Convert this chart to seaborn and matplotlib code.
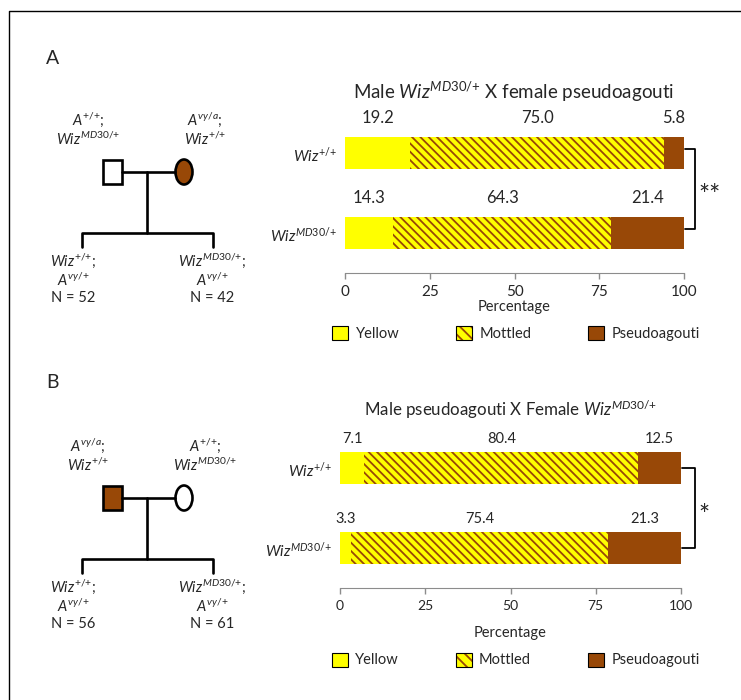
import seaborn as sns
import matplotlib.pyplot as plt
import pandas as pd
from matplotlib.patches import Patch, Rectangle, Ellipse
from matplotlib.legend_handler import HandlerTuple

sns.set_style("white")
plt.rcParams['font.family'] = ['Lato', 'DejaVu Sans']
plt.rcParams['mathtext.fontset'] = 'custom'
plt.rcParams['mathtext.rm'] = 'Lato'
plt.rcParams['mathtext.it'] = 'Lato:italic'
plt.rcParams['mathtext.bf'] = 'Lato:bold'
plt.rcParams['hatch.linewidth'] = 1.3

YELLOW = '#FFFF00'
BROWN = '#984807'
HATCH = '\\\\\\\\'

# data
genotypes = [r'$\mathit{Wiz}^{\mathit{{+}/{+}}}$', r'$\mathit{Wiz}^{\mathit{MD30/{+}}}$']
yellow_a = [19.2, 14.3]
mottled_a = [75.0, 64.3]
pseudo_a = [5.8, 21.4]
yellow_b = [7.1, 3.3]
mottled_b = [80.4, 75.4]
pseudo_b = [12.5, 21.3]
n_a = [52, 42]
n_b = [56, 61]
legend_labels = ['Yellow', 'Mottled', 'Pseudoagouti']

fig = plt.figure(figsize=(7.41, 7.0), dpi=100)


def stacked(ax, yel, mot, pse, label_off, xlabelpad, fs_val, fs_tick):
    df = pd.DataFrame({'genotype': genotypes, 'yellow': yel, 'mottled': mot, 'pseudo': pse})
    df['ym'] = df['yellow'] + df['mottled']
    df['total'] = df['ym'] + df['pseudo']
    # stacked look: draw cumulative totals back to front
    sns.barplot(data=df, x='total', y='genotype', orient='h', color=BROWN,
                saturation=1, width=0.39, linewidth=0, ax=ax)
    sns.barplot(data=df, x='ym', y='genotype', orient='h', color=YELLOW,
                saturation=1, width=0.39, linewidth=0, edgecolor=BROWN,
                hatch=HATCH, ax=ax)
    sns.barplot(data=df, x='yellow', y='genotype', orient='h', color=YELLOW,
                saturation=1, width=0.39, linewidth=0, ax=ax)
    for i, row in df.iterrows():
        centers = [row['yellow'] / 2, row['yellow'] + row['mottled'] / 2,
                   row['ym'] + row['pseudo'] / 2]
        for c, v in zip(centers, [row['yellow'], row['mottled'], row['pseudo']]):
            ax.text(c, i - label_off, f'{v:.1f}', ha='center', va='center', fontsize=fs_val)
    ax.set_xlim(0, 100)
    ax.set_ylim(1.5, -0.5)
    ax.set_xticks([0, 25, 50, 75, 100])
    ax.set_xlabel('Percentage', fontsize=10.5, labelpad=xlabelpad)
    ax.set_ylabel('')
    for s in ['top', 'right', 'left']:
        ax.spines[s].set_visible(False)
    ax.spines['bottom'].set_color('#8c8c8c')
    ax.tick_params(axis='x', bottom=True, direction='out', length=4, width=1,
                   color='#8c8c8c', labelsize=fs_tick, pad=5)
    ax.tick_params(axis='y', left=False, length=0, labelsize=11, pad=6)
    handles = [Patch(facecolor=YELLOW, edgecolor='black', linewidth=0.8),
               (Patch(facecolor=YELLOW, edgecolor=BROWN, hatch='\\\\\\', linewidth=0),
                Patch(facecolor='none', edgecolor='black', linewidth=0.8)),
               Patch(facecolor=BROWN, edgecolor='black', linewidth=0.8)]
    return handles


ax_a = fig.add_axes([345 / 741, 1 - 273 / 700, 339 / 741, 160 / 700])
h = stacked(ax_a, yellow_a, mottled_a, pseudo_a, 0.44, 0, 12, 11)
ax_a.legend(h, legend_labels, ncol=3, frameon=False,
            loc='center', bbox_to_anchor=(0.505, -0.38), fontsize=10.5,
            handlelength=1.1, handleheight=1.1, columnspacing=3.9, handletextpad=0.5,
            handler_map={tuple: HandlerTuple(ndivide=1, pad=0)})

ax_b = fig.add_axes([340 / 741, 1 - 588 / 700, 341 / 741, 160 / 700])
h = stacked(ax_b, yellow_b, mottled_b, pseudo_b, 0.36, 10, 10.5, 10)
ax_b.legend(h, legend_labels, ncol=3, frameon=False,
            loc='center', bbox_to_anchor=(0.515, -0.45), fontsize=10.5,
            handlelength=1.1, handleheight=1.1, columnspacing=3.9, handletextpad=0.5,
            handler_map={tuple: HandlerTuple(ndivide=1, pad=0)})

fig.text(514 / 741, 1 - 92 / 700, r'Male $\mathit{Wiz}^{\mathit{MD30/{+}}}$ X female pseudoagouti',
         ha='center', va='center', fontsize=13.5)
fig.text(510 / 741, 1 - 410 / 700, r'Male pseudoagouti X Female $\mathit{Wiz}^{\mathit{MD30/{+}}}$',
         ha='center', va='center', fontsize=12.2)

# pedigree overlay in pixel coordinates
ov = fig.add_axes([0, 0, 1, 1], zorder=-1)
ov.set_xlim(0, 741)
ov.set_ylim(700, 0)
ov.axis('off')
ov.plot([9, 9, 745], [705, 11, 11], color='black', lw=1)

lw = 1.9
for top, sq_fill, ci_fill, parents, ns in [
        (0, 'white', BROWN,
         [r'$\mathit{A}^{\mathit{{+}/{+}}}\mathit{;}$' + '\n' + r'$\mathit{Wiz}^{\mathit{MD30/{+}}}$',
          r'$\mathit{A}^{\mathit{vy/a}}\mathit{;}$' + '\n' + r'$\mathit{Wiz}^{\mathit{{+}/{+}}}$'], n_a),
        (326, BROWN, 'white',
         [r'$\mathit{A}^{\mathit{vy/a}}\mathit{;}$' + '\n' + r'$\mathit{Wiz}^{\mathit{{+}/{+}}}$',
          r'$\mathit{A}^{\mathit{{+}/{+}}}\mathit{;}$' + '\n' + r'$\mathit{Wiz}^{\mathit{MD30/{+}}}$'], n_b)]:
    yc = 172 + top
    ov.plot([122, 175], [yc, yc], color='black', lw=lw)
    ov.plot([147, 147], [yc, yc + 61], color='black', lw=lw)
    ov.plot([82, 82, 213, 213], [yc + 75, yc + 61, yc + 61, yc + 75], color='black', lw=lw)
    ov.add_patch(Rectangle((103, yc - 12), 19, 24, facecolor=sq_fill, edgecolor='black', lw=lw))
    ov.add_patch(Ellipse((184, yc), 17, 25, facecolor=ci_fill, edgecolor='black', lw=lw))
    ov.text(88, yc - 43, parents[0], ha='center', va='center', fontsize=10.5, linespacing=1.15)
    ov.text(205, yc - 43, parents[1], ha='center', va='center', fontsize=10.5, linespacing=1.15)
    ov.text(73, yc + 106, r'$\mathit{Wiz}^{\mathit{{+}/{+}}}\mathit{;}$' + '\n' + r'$\mathit{A}^{\mathit{vy/{+}}}$'
            + '\n' + f'N = {ns[0]}', ha='center', va='center', fontsize=10.5, linespacing=1.15)
    ov.text(212, yc + 106, r'$\mathit{Wiz}^{\mathit{MD30/{+}}}\mathit{;}$' + '\n' + r'$\mathit{A}^{\mathit{vy/{+}}}$'
            + '\n' + f'N = {ns[1]}', ha='center', va='center', fontsize=10.5, linespacing=1.15)

ov.text(53, 58, 'A', ha='center', va='center', fontsize=14)
ov.text(53, 383, 'B', ha='center', va='center', fontsize=14)

# significance brackets
ov.plot([685, 695, 695, 685], [149, 149, 229, 229], color='black', lw=1.3)
ov.text(710, 197, '**', ha='center', va='center', fontsize=19)
ov.plot([682, 695, 695, 682], [468, 468, 548, 548], color='black', lw=1.3)
ov.text(704, 517, '*', ha='center', va='center', fontsize=19)

fig.savefig('out.png', dpi=100)
